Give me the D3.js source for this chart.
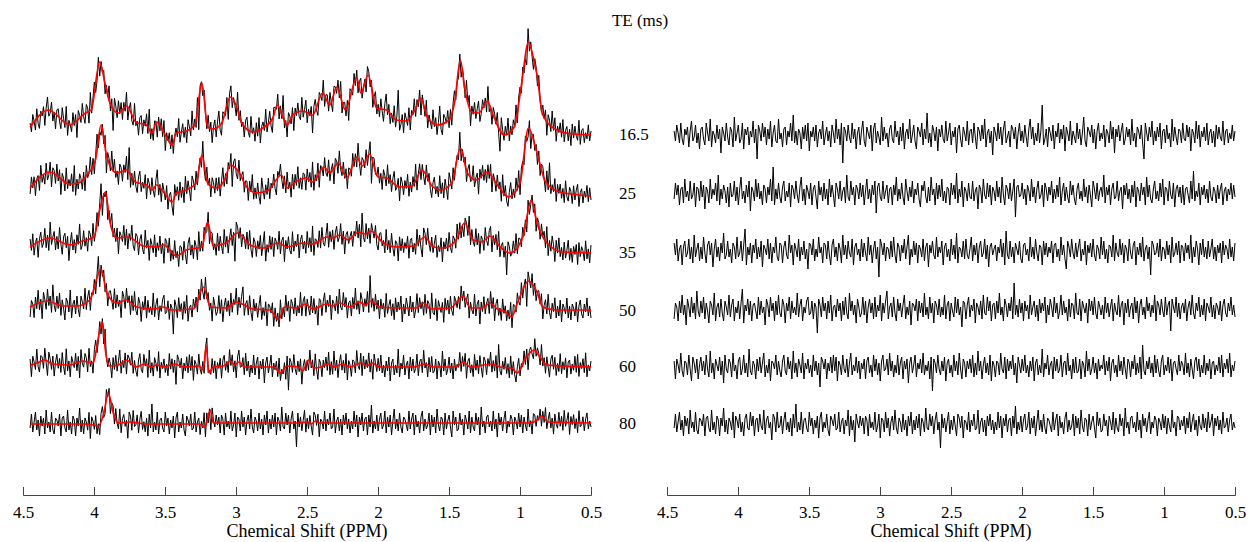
<!DOCTYPE html>
<html><head><meta charset="utf-8">
<script src="https://cdn.jsdelivr.net/npm/d3@7/dist/d3.min.js"></script>
<style>
body{margin:0;background:#fff}
svg{display:block}
svg text{font-family:"Liberation Serif","Times New Roman",Tinos,"DejaVu Serif","Noto Serif",serif !important;fill:#000}
</style>
</head><body>
<svg id="chart" width="1248" height="542"></svg>
<script>
// ---------------- DATA ----------------
const teLabels = ["16.5","25","35","50","60","80"];
const tickValues = [4.5,4,3.5,3,2.5,2,1.5,1,0.5];
const tickLabels = ["4.5","4","3.5","3","2.5","2","1.5","1","0.5"];
const xTitle = "Chemical Shift (PPM)";
const teTitle = "TE (ms)";
const ppmRange = [4.45, 0.5]; // span of the acquired points

// fitted spectra: [ppm, intensity]
const fit_16_5 = [[4.45,8],[4.32,25],[4.17,10],[4.06,22],[4.02,25],[3.96,73],[3.92,50],[3.89,33],[3.83,22],[3.77,29],[3.70,12],[3.64,11],[3.59,2],[3.56,13],[3.51,3],[3.45,-10],[3.42,2],[3.35,4],[3.29,10],[3.24,52],[3.20,8],[3.16,6],[3.10,12],[3.04,38],[3.00,30],[2.96,12],[2.88,3],[2.81,7],[2.74,17],[2.71,30],[2.67,18],[2.64,10],[2.60,20],[2.53,24],[2.46,20],[2.39,42],[2.34,30],[2.29,48],[2.23,25],[2.15,57],[2.12,42],[2.07,60],[2.01,27],[1.94,25],[1.87,15],[1.80,14],[1.74,25],[1.70,37],[1.65,17],[1.58,10],[1.50,15],[1.46,33],[1.42,75],[1.39,47],[1.34,23],[1.29,22],[1.23,34],[1.19,20],[1.11,0],[1.04,8],[0.99,50],[0.94,93],[0.90,73],[0.88,60],[0.84,20],[0.74,5],[0.63,1],[0.50,0]];
const fit_25 = [[4.45,5],[4.31,21],[4.17,9],[4.11,10],[4.05,18],[3.99,33],[3.95,68],[3.91,36],[3.84,20],[3.77,23],[3.71,11],[3.63,8],[3.59,3],[3.56,8],[3.51,1],[3.45,-9],[3.42,0],[3.35,3],[3.28,10],[3.24,38],[3.20,10],[3.14,5],[3.08,13],[3.04,28],[2.98,21],[2.92,5],[2.85,0],[2.77,3],[2.68,18],[2.64,5],[2.57,12],[2.51,15],[2.46,11],[2.38,26],[2.34,20],[2.28,30],[2.22,15],[2.15,36],[2.11,27],[2.06,39],[2.00,16],[1.94,15],[1.85,6],[1.76,7],[1.69,23],[1.62,7],[1.56,3],[1.48,10],[1.42,45],[1.37,20],[1.31,13],[1.23,21],[1.16,8],[1.08,-4],[1.00,10],[0.94,65],[0.88,40],[0.82,11],[0.72,1],[0.50,-3]];
const fit_35 = [[4.45,4],[4.31,13],[4.17,6],[4.08,10],[4.00,14],[3.96,41],[3.92,59],[3.89,31],[3.84,13],[3.76,14],[3.65,5],[3.56,4],[3.51,6],[3.42,-5],[3.35,1],[3.24,4],[3.20,29],[3.16,5],[3.07,8],[2.99,18],[2.90,6],[2.81,3],[2.70,8],[2.64,4],[2.53,8],[2.46,7],[2.36,14],[2.32,13],[2.27,16],[2.21,11],[2.14,19],[2.09,17],[2.05,20],[1.97,9],[1.87,4],[1.75,5],[1.67,14],[1.61,4],[1.54,3],[1.45,11],[1.39,28],[1.33,11],[1.27,9],[1.21,15],[1.14,4],[1.07,-2],[0.98,14],[0.92,51],[0.88,28],[0.81,8],[0.70,-1],[0.50,-2]];
const fit_50 = [[4.45,2],[4.33,8],[4.22,3],[4.12,3],[4.03,9],[3.95,40],[3.91,16],[3.84,6],[3.77,9],[3.70,2],[3.58,0],[3.51,2],[3.46,-1],[3.30,0],[3.23,22],[3.18,2],[3.07,1],[3.00,7],[2.88,0],[2.76,-1],[2.70,-11],[2.66,2],[2.57,1],[2.51,5],[2.46,0],[2.36,5],[2.32,3],[2.27,6],[2.20,2],[2.13,7],[2.09,4],[2.05,8],[1.99,2],[1.85,1],[1.73,1],[1.68,6],[1.63,0],[1.49,1],[1.40,13],[1.35,1],[1.27,1],[1.21,6],[1.16,0],[1.10,-3],[1.06,-8],[1.01,9],[0.94,28],[0.88,17],[0.84,2],[0.75,-1],[0.50,-1]];
const fit_60 = [[4.45,2],[4.40,4],[4.35,7],[4.29,3],[4.17,2],[4.08,6],[4.01,4],[3.94,45],[3.92,17],[3.89,1],[3.83,2],[3.77,7],[3.71,0],[3.64,3],[3.60,0],[3.56,2],[3.51,0],[3.43,3],[3.37,0],[3.26,1],[3.23,-3],[3.21,21],[3.19,-6],[3.16,0],[3.09,1],[3.04,6],[3.01,2],[2.98,5],[2.94,0],[2.73,0],[2.69,-6],[2.64,1],[2.56,0],[2.53,-4],[2.49,7],[2.45,-1],[2.40,0],[2.35,3],[2.31,0],[2.25,3],[2.20,0],[2.12,4],[2.08,1],[2.04,4],[1.99,0],[1.75,0],[1.67,3],[1.61,0],[1.45,0],[1.40,5],[1.35,0],[1.20,3],[1.14,0],[1.06,-1],[1.02,-6],[0.96,9],[0.90,17],[0.87,12],[0.81,2],[0.50,0]];
const fit_80 = [[4.45,0],[4.05,0],[3.97,-2],[3.93,11],[3.90,31],[3.86,9],[3.83,1],[3.75,2],[3.63,0],[3.26,0],[3.22,-3],[3.18,14],[3.16,1],[2.55,1],[2.50,2],[2.47,0],[2.44,3],[2.41,1],[0.93,1],[0.88,4],[0.85,8],[0.80,2],[0.50,1]];

// fit residuals (data minus fit), evenly spaced over ppmRange
const res_16_5 = [2,-3,5,1,-4,6,-2,-5,3,0,4,-6,2,7,-3,-1,5,-4,1,-7,3,4,-2,-5,6,1,-3,8,-6,2,0,-4,5,-2,3,-9,4,1,-3,6,-1,-5,4,2,-6,9,-3,1,5,-4,-2,6,-7,3,0,4,-5,2,-1,7,-4,3,-12,5,2,-3,6,-1,4,-5,3,-2,7,-6,1,5,-3,-4,8,-2,1,-6,3,4,-5,2,-1,6,-3,10,-4,2,-5,3,1,-7,4,-2,5,-3,6,-8,2,-1,4,-3,5,-6,1,3,-2,7,-5,0,4,-3,2,-6,5,1,-4,8,-2,3,-5,6,-14,4,2,-3,5,-1,-4,6,-2,3,-7,1,4,-5,2,7,-3,-6,4,1,-2,5,-8,3,6,-4,2,-1,-5,9,-3,4,-2,1,-6,3,5,-2,-4,7,-1,2,-5,4,-3,6,-7,1,3,-2,8,-4,0,5,-3,-7,4,2,-1,6,-5,3,-2,11,-4,1,-6,5,2,-3,4,-8,3,-1,5,-2,-4,7,-3,1,6,-5,2,-1,4,-9,3,5,-2,-6,4,1,-3,7,-5,2,3,-4,6,-1,-7,4,2,-3,5,-2,8,-6,1,3,-4,2,-10,4,1,-3,6,-2,4,-5,3,7,-4,-1,2,-6,5,3,-2,4,-7,1,6,-3,2,-4,5,-1,-6,3,8,-2,4,-5,1,-3,6,-4,2,15,-5,-2,3,-6,4,1,-3,5,-7,2,-1,6,-4,3,-2,5,-8,4,1,-3,7,-5,2,-1,-4,6,-2,3,-5,1,9,-3,-6,4,2,-1,5,-4,3,-7,2,6,-3,1,-2,5,-6,3,1,-4,7,-2,4,-9,3,-1,5,-3,2,6,-5,-2,4,-1,3,-5,8,-3,1,-6,4,2,-2,5,-4,-12,6,1,-3,4,-1,7,-5,2,-3,4,-1,6,-7,2,3,-4,5,-2,1,-6,8,-3,4,-1,-5,3,2,-4,6,-2,-3,5,-1,4,-8,3,1,-4,7,-2,5,-6,2,-1,4,-3,6,-5,1,3,-4,2,-6,5,-2,4,-1,-3,7,-5,2,3,-4,1,-2,5,-3,2];
const res_25 = [-3,5,-1,4,-6,2,3,-5,7,-2,1,-4,6,-3,-1,5,-7,3,2,-4,6,-2,4,-8,3,1,-5,7,-3,2,-1,5,-4,9,-6,2,-3,4,1,-5,3,-7,5,-2,-1,6,-4,3,-6,2,8,-3,1,-5,4,-2,6,-9,3,1,-4,7,-2,5,-3,1,-6,4,2,-5,3,-1,7,-4,13,-6,2,-3,5,-2,-5,3,6,-4,1,-2,5,-7,4,2,-3,6,-1,-5,3,8,-4,2,-6,4,1,-3,5,-6,2,4,-2,-8,6,-1,3,-4,5,-3,2,-6,7,-2,4,-1,-7,5,2,-3,6,-4,1,3,-5,9,-2,-4,6,-1,3,-6,4,2,-3,5,-2,4,-6,1,7,-3,2,-5,4,-1,6,-10,3,5,-2,-4,6,-3,1,4,-5,2,3,-6,4,-1,8,-4,2,-3,5,-2,-6,7,1,-4,3,-2,6,-5,2,-1,5,-3,-7,4,1,6,-2,-5,3,-4,8,-1,2,-6,5,-3,4,-2,7,-4,1,-5,3,2,-6,5,-1,4,-3,10,-5,2,-2,6,-7,3,1,-4,5,-2,-3,6,-4,1,3,-8,4,2,-5,7,-1,-3,5,-2,4,-6,3,1,-4,6,-2,3,-5,8,-1,-6,4,2,-3,5,-4,1,7,-12,3,4,-2,-1,5,-3,2,-6,4,1,-4,7,-2,3,-5,2,6,-3,-1,4,-7,5,2,-4,3,-1,6,-5,2,-3,4,-2,8,-6,1,5,-4,3,-2,-5,6,-1,4,-3,-6,2,5,-3,1,-4,7,-2,3,-5,4,-1,-7,6,2,-3,5,-4,1,3,-2,9,-5,3,-1,4,-6,2,5,-3,-2,6,-4,1,3,-8,4,-1,5,-3,2,-5,4,-2,6,-7,3,1,-4,5,-1,3,-6,8,-2,4,-3,-5,2,6,-3,1,-4,5,-2,7,-6,3,2,-4,6,-1,-3,5,-7,2,4,-2,3,-5,4,-6,2,3,-1,-5,6,-3,11,-4,1,-2,5,-6,3,-1,4,-3,2,-5,6,-2,-4,3,1,-5,4,-3,2,5,-6,1,3,-4,2,-1,5,-3,4,-2];
const res_35 = [4,-2,6,-5,1,3,-7,2,5,-3,-1,6,-4,2,-6,8,-3,1,4,-5,2,-4,7,-1,-6,3,5,-2,4,-8,1,6,-3,2,-5,4,-1,9,-4,-2,5,-3,1,-6,4,2,-4,7,-3,-1,5,-5,3,11,-7,2,-2,4,-6,3,-1,6,-4,2,-3,5,-8,3,1,-2,6,-4,4,-6,2,-1,7,-3,-5,4,3,-6,2,5,-2,-4,8,-1,3,-7,4,1,-3,6,-5,2,-2,5,-4,1,-9,4,3,-2,6,-5,1,-3,7,-1,2,-6,4,3,-4,5,-2,-7,3,6,-3,2,-5,4,1,-6,8,-2,3,-4,5,-1,-3,6,-7,2,4,-2,1,-5,6,-3,4,-1,-5,7,-2,3,-6,1,5,-4,2,-13,6,3,-2,4,-5,2,1,-4,5,-3,7,-2,-6,4,2,-5,3,-1,6,-4,2,8,-7,1,-3,5,-2,4,-6,3,1,-3,6,-5,2,4,-8,3,-1,5,-2,-4,7,-3,2,-1,5,-7,2,4,-3,1,-5,6,-2,3,-4,9,-6,2,1,-3,5,-4,6,-2,-4,1,7,-5,3,-2,4,-6,2,5,-3,-1,6,-4,3,-8,2,4,-2,1,3,-5,2,-1,6,-3,4,-7,10,-2,-4,5,-3,2,-6,4,1,-2,5,-4,-6,3,4,-2,1,-5,7,-3,2,-4,6,-1,-5,3,2,-7,5,-2,4,-3,2,-1,5,-6,3,4,-3,1,-5,7,-2,3,-4,-9,5,2,-3,6,-1,-4,4,-3,2,6,-5,1,-2,5,-7,3,-1,4,-3,6,-2,-5,3,1,-4,7,-2,5,-4,1,-6,3,2,-3,8,-5,4,-1,-3,6,-2,4,-6,3,1,-5,6,-1,-4,3,5,-7,2,-2,4,-3,7,-5,1,3,-4,2,-12,5,3,-2,-1,4,-3,6,-5,2,1,-4,5,-2,3,-6,7,-3,-1,4,-2,5,-6,3,2,-5,4,-1,3,-4,8,-6,2,-3,5,1,-7,4,-2,6,-3,2,-4,5,-3,1,6,-4,2,-5,3,-1,4,-6,5,-2,3,1,-4,6,-3,2,-5,4];
const res_50 = [-5,3,1,-6,4,-2,7,-3,2,-8,5,1,-4,6,-2,3,-5,9,-1,-4,4,-2,6,-5,3,-1,-7,4,2,-3,8,-6,1,3,-4,5,-2,-6,4,1,-3,7,-4,2,5,-6,1,-2,4,-5,3,10,-7,2,-1,5,-3,4,-6,2,3,-1,-5,6,-3,4,-2,1,-8,5,2,-4,6,-1,3,-6,4,-3,7,-2,-4,5,2,-7,3,-1,6,-5,4,-2,1,-3,8,-4,2,5,-6,1,-2,4,6,-3,-2,4,-5,3,1,-12,5,2,-4,6,-1,3,-5,4,-2,7,-6,1,2,-4,5,-1,3,-6,4,-3,6,-2,-5,8,-1,4,-3,2,-7,5,1,-4,-2,6,-3,4,-7,1,5,-2,3,-5,6,-4,2,-1,7,-6,3,-2,4,9,-5,1,3,-4,6,-2,-6,5,-1,3,-4,2,7,-5,1,-3,4,-8,3,2,-1,5,-6,4,-2,3,-4,8,-3,1,-5,6,-2,3,-7,4,2,-3,5,-4,1,-3,7,-5,2,4,-6,3,-1,-4,6,-2,5,-3,1,-9,4,3,-5,2,6,-4,2,-1,5,-7,3,1,-3,4,-5,7,-2,-3,6,-1,4,-6,2,3,-5,4,-2,8,-3,1,-6,5,2,-4,3,-1,6,-5,13,-3,2,-4,5,-2,3,-6,4,-1,2,-5,7,-3,1,4,-4,2,-6,5,-2,3,-1,6,-7,2,-3,5,1,-4,6,-2,3,-5,-1,7,-3,4,-2,1,-6,5,-4,3,2,-5,8,-2,-3,5,-6,4,1,-2,3,-7,5,-1,4,-3,6,-2,-5,4,1,-3,2,-5,6,-2,3,-4,1,5,-6,3,-1,-3,7,-4,2,4,-8,3,-2,5,-4,1,3,-5,6,-2,4,-7,2,5,-3,1,-5,6,-1,3,-4,2,-2,7,-6,4,2,-3,5,-1,-4,6,-3,2,4,-11,5,1,-2,6,-4,3,-5,1,3,-2,5,-6,1,4,-3,7,-2,-5,3,-1,6,-4,2,-3,5,-6,3,1,-2,6,-4,2,-5,3,1,-3,4,-6,2,5,-2,-4,3,-1,6,-3,2,-4];
const res_60 = [3,-6,4,1,-3,7,-2,-5,3,2,-4,6,-1,-7,5,2,-3,4,-6,1,5,-2,3,-4,6,-1,-5,8,-3,2,-6,4,1,-2,5,-4,3,-8,6,-1,-3,4,2,-5,7,-2,1,-6,3,5,-4,-1,6,-3,2,-5,9,-2,-4,3,1,-6,4,-2,5,-3,2,7,-5,1,-3,4,-7,3,2,-1,6,-4,3,-2,-5,3,6,-2,-4,5,-1,3,-6,8,-3,2,-5,4,1,-3,7,-6,2,-1,4,-3,1,-5,6,-2,3,-4,2,-10,5,3,-1,4,-6,2,-2,5,-3,6,-2,5,-7,3,1,-4,6,-1,-3,4,-5,2,7,-4,1,-2,5,-3,3,-6,2,-1,4,-6,3,5,-3,1,-5,6,-2,4,-4,2,-7,3,6,-2,-1,4,-4,7,-2,3,-5,1,-3,6,-4,2,5,-6,3,-1,4,-8,2,5,-3,1,6,-5,2,-1,4,-3,7,-4,1,-2,3,-6,5,-12,4,2,-3,6,-1,-4,3,-2,5,-7,2,4,-3,1,-5,6,-2,3,-4,7,-1,-6,4,2,-5,3,-1,4,-3,6,-5,2,-4,8,-2,3,-6,1,5,-3,2,-4,6,-7,3,1,-5,3,2,-4,7,-1,-3,5,-6,4,-2,3,-1,6,-4,2,-8,5,1,-3,4,-2,6,-3,1,-5,3,-2,5,-7,2,4,-4,1,-3,9,-5,2,-1,6,-4,1,3,-6,5,-2,4,-3,-1,6,-5,2,3,-4,7,-2,1,-6,4,-3,5,-3,-2,4,-6,3,1,-5,8,-2,4,-4,-1,5,-3,2,-6,4,-2,1,-1,6,-4,3,-2,5,-7,2,4,-3,1,-5,6,-2,3,-4,5,-1,-6,4,2,-5,3,-1,6,-4,2,-3,5,-6,11,-2,-4,3,-1,5,-3,2,-5,6,-3,4,-2,-5,3,6,-4,1,-2,5,-3,4,-7,2,3,-1,-4,6,-2,3,1,-4,7,-3,2,-5,4,-1,-6,3,5,-2,4,-5,1,-3,6,-4,2,-2,4,-6,2,3,-4,1,-2,5,-3,6,-5,2,-1,4,-3,7,-5,1,-2,3];
const res_80 = [-2,5,-4,1,6,-3,2,-6,4,-1,3,-5,7,-2,1,-4,6,-3,-5,3,2,-1,5,-6,3,4,-2,-4,7,-3,1,-5,4,2,-6,3,-1,8,-4,2,-5,3,1,-3,6,-7,4,2,-2,5,-4,1,-6,3,5,-2,-3,6,-1,4,-6,2,3,-4,5,-1,-3,7,-5,2,4,-2,1,-8,5,3,-4,6,-2,-1,4,-5,2,6,-3,1,-4,3,-6,5,-2,10,-4,1,-3,6,-5,2,3,-2,-4,6,-1,3,-5,2,-2,4,-7,3,6,-4,1,-2,5,-3,-6,4,2,-1,5,-3,-2,6,-4,1,3,-5,2,-1,7,-6,4,-3,2,-9,5,1,-2,4,-1,3,-5,4,2,-6,5,-2,1,-3,6,-4,-1,5,-7,3,2,-4,6,-2,3,-6,1,4,-3,7,-2,-5,3,1,-4,5,-3,2,-6,4,-1,6,-5,2,-3,4,-2,5,-6,3,1,-4,8,-2,-3,5,-1,4,-5,2,6,-3,1,-12,5,-2,3,-4,1,6,-5,2,-3,4,-1,-6,5,3,-2,4,-7,2,1,-3,6,-4,2,-1,5,-3,-2,7,-5,1,3,-4,2,-6,4,-1,5,-3,2,-5,1,-3,6,-2,4,-7,3,-1,5,-4,2,3,-6,4,-2,9,-5,1,-3,4,-4,2,5,-3,-1,6,-5,3,-2,4,-6,1,7,-3,2,-4,5,-2,-5,3,2,-1,-4,6,-3,2,5,-6,4,-2,1,-5,3,6,-4,2,-3,-1,5,-6,4,-2,3,-5,7,-1,-4,3,2,-6,5,-3,1,4,-2,-7,6,-1,3,-4,-3,5,-1,2,-6,4,1,-3,6,-5,3,-2,-4,5,-1,3,-6,8,-2,1,-5,3,4,-2,1,-4,6,-3,2,-7,5,-1,3,-4,2,6,-5,1,-2,4,2,-6,3,1,-3,5,-2,4,-5,3,-1,-4,7,-2,1,-6,4,3,-3,2,-1,4,-5,3,-2,6,-4,1,5,-3,2,-6,4,-1,-3,5,-2,3,-4,6,-2,1,5,-6,3,-1,4,-3,2,-5,6,-2,-1,3,-4,2,5,-3,1,-2];

const fits = [fit_16_5, fit_25, fit_35, fit_50, fit_60, fit_80];
const residuals = [res_16_5, res_25, res_35, res_50, res_60, res_80];

// ---------------- LAYOUT ----------------
const FONT = '"Liberation Serif","Times New Roman",Tinos,"DejaVu Serif","Noto Serif",serif';
const svg = d3.select("#chart");
const traceY = [135, 193, 251, 309, 367, 424];
const labelY = [140, 199, 258, 316, 372, 429];
const axisY = 495;
const xLeft = d3.scaleLinear().domain([4.5, 0.5]).range([23, 591]);
const xRight = d3.scaleLinear().domain([4.5, 0.5]).range([667, 1235]);
const yScale = d3.scaleLinear().domain([0, 100]).range([0, -100]);
const noiseGain = 2.0;

fits.forEach((fit, i) => {
  const res = residuals[i];
  const idx = d3.scaleLinear().domain([0, res.length - 1]).range(ppmRange);
  const fitAt = d3.scaleLinear().domain(fit.map(d => d[0])).range(fit.map(d => d[1])).clamp(true);
  const g = svg.append("g").attr("transform", `translate(0,${traceY[i]})`);

  // left: measured data = fit + residual
  g.append("path")
    .datum(res)
    .attr("fill", "none").attr("stroke", "#000").attr("stroke-width", 1)
    .attr("d", d3.line()
      .x((d, j) => xLeft(idx(j)))
      .y((d, j) => yScale(fitAt(idx(j)) + d * noiseGain)));

  // left: fit
  g.append("path")
    .datum(fit)
    .attr("fill", "none").attr("stroke", "#ff0000").attr("stroke-width", 1.7)
    .attr("d", d3.line().curve(d3.curveMonotoneX)
      .x(d => xLeft(d[0])).y(d => yScale(d[1])));

  // right: residual
  g.append("path")
    .datum(res)
    .attr("fill", "none").attr("stroke", "#000").attr("stroke-width", 1)
    .attr("d", d3.line()
      .x((d, j) => xRight(idx(j)))
      .y(d => yScale(d * noiseGain)));

  svg.append("text")
    .attr("x", 619).attr("y", labelY[i])
    .attr("font-family", FONT).attr("font-size", 17)
    .text(teLabels[i]);
});

svg.append("text").attr("x", 640).attr("y", 26)
  .attr("text-anchor", "middle").attr("font-family", FONT).attr("font-size", 17).text(teTitle);

[xLeft, xRight].forEach(sc => {
  const ax = svg.append("g").attr("transform", `translate(0,${axisY})`)
    .call(d3.axisBottom(sc).tickValues(tickValues)
      .tickFormat((d, i) => tickLabels[i])
      .tickSizeInner(-8).tickSizeOuter(-8).tickPadding(11));
  ax.attr("font-family", FONT);
  ax.selectAll("path,line").attr("stroke", "#444");
  ax.selectAll("text").attr("font-size", 17).attr("font-family", FONT).attr("fill", "#000");
  const r = sc.range();
  svg.append("text").attr("x", (r[0] + r[1]) / 2).attr("y", 537)
    .attr("text-anchor", "middle").attr("font-family", FONT).attr("font-size", 18).text(xTitle);
});
</script>
</body></html>
